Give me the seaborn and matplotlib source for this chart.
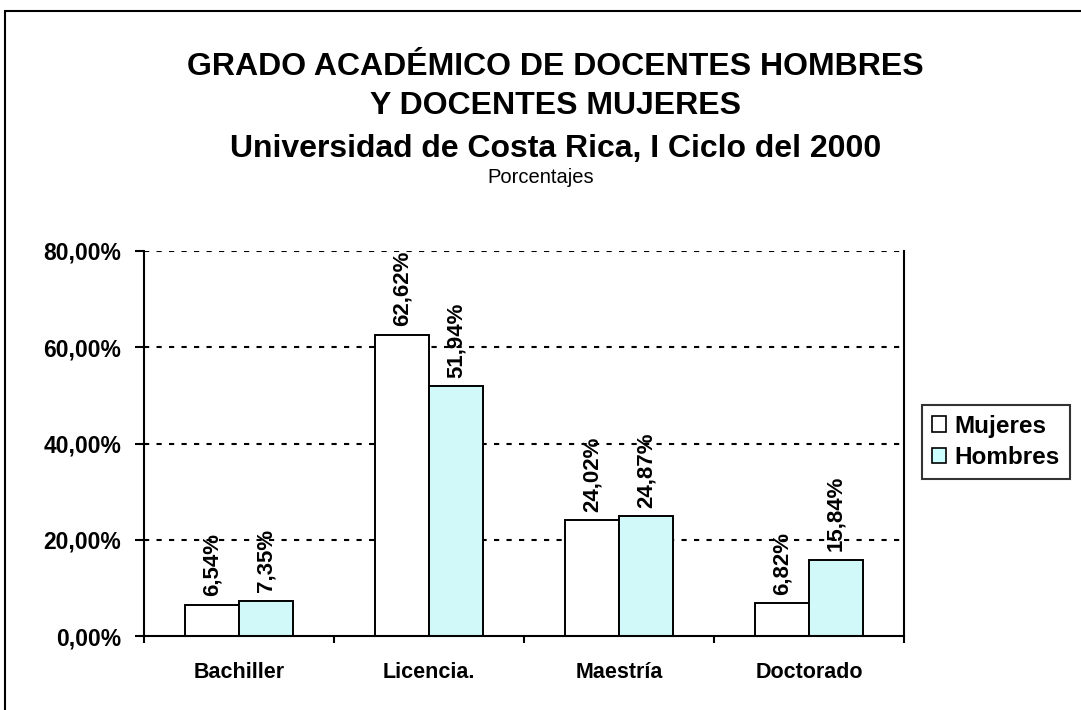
import pandas as pd
import matplotlib.pyplot as plt
import matplotlib.patches as patches
import seaborn as sns


categorias = ["Bachiller", "Licencia.", "Maestría", "Doctorado"]
mujeres = [6.54, 62.62, 24.02, 6.82]
hombres = [7.35, 51.94, 24.87, 15.84]
yticks = [0, 20, 40, 60, 80]

df = pd.DataFrame({
    "Grado": categorias * 2,
    "Sexo": ["Mujeres"] * 4 + ["Hombres"] * 4,
    "Porcentaje": mujeres + hombres,
})

sns.set_style("white")
plt.rcParams["font.family"] = ["Liberation Sans", "DejaVu Sans"]
plt.rcParams["text.color"] = "black"
plt.rcParams["xtick.color"] = "black"
plt.rcParams["ytick.color"] = "black"
plt.rcParams["axes.labelcolor"] = "black"

fig = plt.figure(figsize=(10.81, 7.10), dpi=100)
ax = fig.add_axes([0.1332, 0.1042, 0.7031, 0.5423])

sns.barplot(
    data=df,
    x="Grado",
    y="Porcentaje",
    hue="Sexo",
    palette={"Mujeres": "white", "Hombres": "#CCFFFF"},
    edgecolor="black",
    linewidth=1.4,
    width=0.57,
    gap=0,
    ax=ax,
)

for cont in ax.containers:
    ax.bar_label(
        cont,
        labels=[f"{v:.2f}%".replace(".", ",") for v in cont.datavalues],
        rotation=90,
        padding=6,
        fontsize=16,
        fontweight="bold",
    )

ax.set_xlim(-0.5, 3.5)
ax.set_ylim(0, 80)
ax.set_yticks(yticks)
ax.set_yticklabels([f"{v:.2f}%".replace(".", ",") for v in yticks],
                   fontsize=16.5, fontweight="bold")
ax.set_xticks(range(4))
ax.set_xticklabels(categorias, fontsize=15.5, fontweight="bold")
ax.set_xticks([-0.5, 0.5, 1.5, 2.5, 3.5], minor=True)
ax.tick_params(axis="x", which="major", length=0, pad=19)
ax.tick_params(axis="x", which="minor", length=5, width=1.5, direction="out", bottom=True)
ax.tick_params(axis="y", length=6.5, width=1.5, direction="out", left=True, pad=10)
ax.set_xlabel("")
ax.set_ylabel("")

for v in yticks[1:]:
    ax.axhline(v, color="black", linewidth=1.5, linestyle=(0, (2.5, 3.5)), zorder=0)

ax.spines["top"].set_visible(False)
for s in ["left", "right", "bottom"]:
    ax.spines[s].set_color("black")
    ax.spines[s].set_linewidth(1.5)

ax.legend_.remove()
handles = [
    patches.Patch(facecolor="white", edgecolor="black", linewidth=1.2, label="Mujeres"),
    patches.Patch(facecolor="#CCFFFF", edgecolor="black", linewidth=1.2, label="Hombres"),
]
leg = fig.legend(
    handles=handles,
    loc="upper left",
    bbox_to_anchor=(922 / 1081, 1 - 405 / 710),
    frameon=True,
    fancybox=False,
    prop={"weight": "bold", "size": 17.5},
    handlelength=0.6,
    handleheight=0.6,
    handletextpad=0.35,
    borderpad=0.4,
    labelspacing=0.35,
    borderaxespad=0,
)
leg.get_frame().set_edgecolor("black")
leg.get_frame().set_linewidth(1.5)

fig.text(0.514, 1 - 75 / 710, "GRADO ACADÉMICO DE DOCENTES HOMBRES", ha="center", va="baseline",
         fontsize=23, fontweight="bold")
fig.text(0.514, 1 - 114 / 710, "Y DOCENTES MUJERES", ha="center", va="baseline",
         fontsize=23, fontweight="bold")
fig.text(0.514, 1 - 157 / 710, "Universidad de Costa Rica, I Ciclo del 2000", ha="center",
         va="baseline", fontsize=23, fontweight="bold")
fig.text(0.50, 1 - 183 / 710, "Porcentajes", ha="center", va="baseline", fontsize=14.5)

fig.patches.append(patches.Rectangle(
    (5 / 1081, -0.05), 1.2, 0.05 + 1 - 11 / 710,
    transform=fig.transFigure, fill=False, edgecolor="black", linewidth=1.5,
))

plt.savefig("out.png", dpi=100)
